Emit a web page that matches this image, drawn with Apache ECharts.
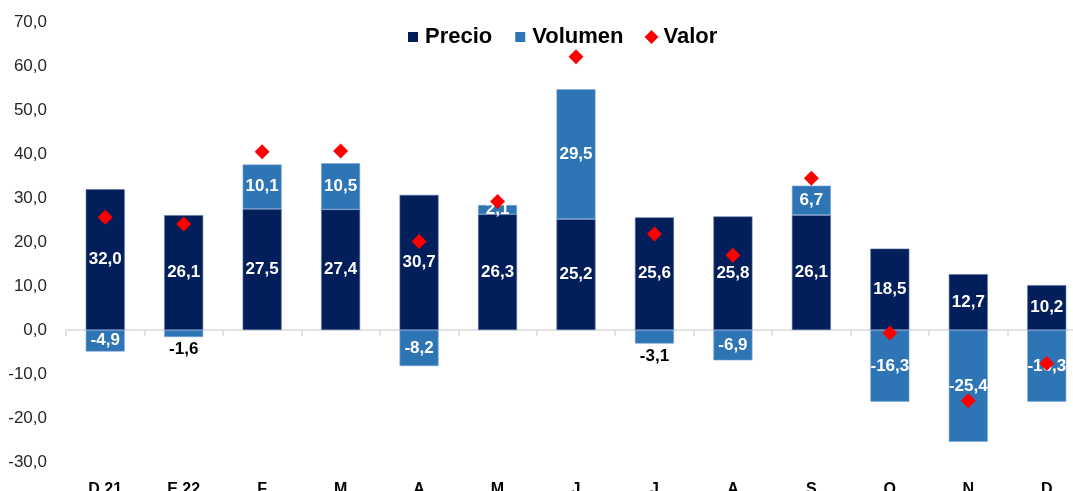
<!DOCTYPE html>
<html>
<head>
<meta charset="utf-8">
<script src="https://cdn.jsdelivr.net/npm/echarts@6/dist/echarts.min.js"></script>
<style>html,body{margin:0;padding:0;background:#fff;overflow:hidden}#c{width:1073px;height:491px}</style>
</head>
<body>
<div id="c"></div>
<script>
const categories = ['D.21','E.22','F','M','A','M','J','J','A','S','O','N','D'];
const precio  = [32.0, 26.1, 27.5, 27.4, 30.7, 26.3, 25.2, 25.6, 25.8, 26.1, 18.5, 12.7, 10.2];
const volumen = [-4.9, -1.6, 10.1, 10.5, -8.2, 2.1, 29.5, -3.1, -6.9, 6.7, -16.3, -25.4, -16.3];
const valor   = [25.6, 24.1, 40.5, 40.7, 20.1, 29.2, 62.1, 21.8, 17.0, 34.5, -0.7, -16.1, -7.6];
const yTicks = {min: -30, max: 70, interval: 10};

const fmt = v => Number(v).toFixed(1).replace('.', ',');
const FONT = '"Liberation Sans", Arial, sans-serif';

const volData = volumen.map(v => {
  if (v < 0 && Math.abs(v) < 4) {
    return {value: v, label: {position: 'bottom', distance: 4, color: '#000'}};
  }
  return v;
});

const SQ = 'path://M0,0L0,0M2,2L12,2L12,12L2,12ZM14,14L14,14';

const chart = echarts.init(document.getElementById('c'), null, {renderer: 'canvas'});
chart.setOption({
  animation: false,
  backgroundColor: '#fff',
  legend: {
    left: 401, top: 21,
    itemWidth: 14, itemHeight: 14, itemGap: 21,
    itemStyle: {borderWidth: 0},
    textStyle: {fontFamily: FONT, fontWeight: 'bold', fontSize: 22, color: '#000'},
    data: [
      {name: 'Precio', icon: SQ},
      {name: 'Volumen', icon: SQ},
      {name: 'Valor', icon: 'diamond', itemStyle: {color: '#ff0000'}}
    ]
  },
  grid: {left: 66, top: 22, width: 1020, height: 440, containLabel: false, outerBoundsMode: 'none'},
  xAxis: [
    {
      type: 'category', data: categories, position: 'bottom',
      axisLine: {show: false, onZero: false}, axisTick: {show: false},
      axisLabel: {fontFamily: FONT, fontWeight: 'bold', fontSize: 16, color: '#000', margin: 20}
    },
    {
      type: 'category', data: categories, position: 'bottom',
      axisLine: {show: true, onZero: true, lineStyle: {color: '#d9d9d9', width: 1.5}},
      axisTick: {show: true, inside: false, length: 6, lineStyle: {color: '#d9d9d9', width: 1.5}},
      axisLabel: {show: false}
    }
  ],
  yAxis: {
    type: 'value', min: yTicks.min, max: yTicks.max, interval: yTicks.interval,
    axisLine: {show: false}, axisTick: {show: false}, splitLine: {show: false},
    axisLabel: {fontFamily: FONT, fontSize: 17, color: '#262626', margin: 19, formatter: fmt}
  },
  series: [
    {
      name: 'Precio', type: 'bar', stack: 'a', data: precio, barWidth: 39,
      itemStyle: {color: '#021f5c', borderColor: '#5b74a3', borderWidth: 0.6},
      label: {show: true, position: 'inside', color: '#fff', fontFamily: FONT, fontWeight: 'bold', fontSize: 17, formatter: p => fmt(p.value)}
    },
    {
      name: 'Volumen', type: 'bar', stack: 'a', data: volData, barWidth: 39,
      itemStyle: {color: '#2e75b6', borderColor: '#7ea6d6', borderWidth: 0.6},
      label: {show: true, position: 'inside', color: '#fff', fontFamily: FONT, fontWeight: 'bold', fontSize: 17, formatter: p => fmt(p.value)}
    },
    {
      name: 'Valor', type: 'scatter', data: valor, symbol: 'diamond', symbolSize: 15, z: 5,
      itemStyle: {color: '#ff0000', opacity: 1}
    }
  ]
});
</script>
</body>
</html>
